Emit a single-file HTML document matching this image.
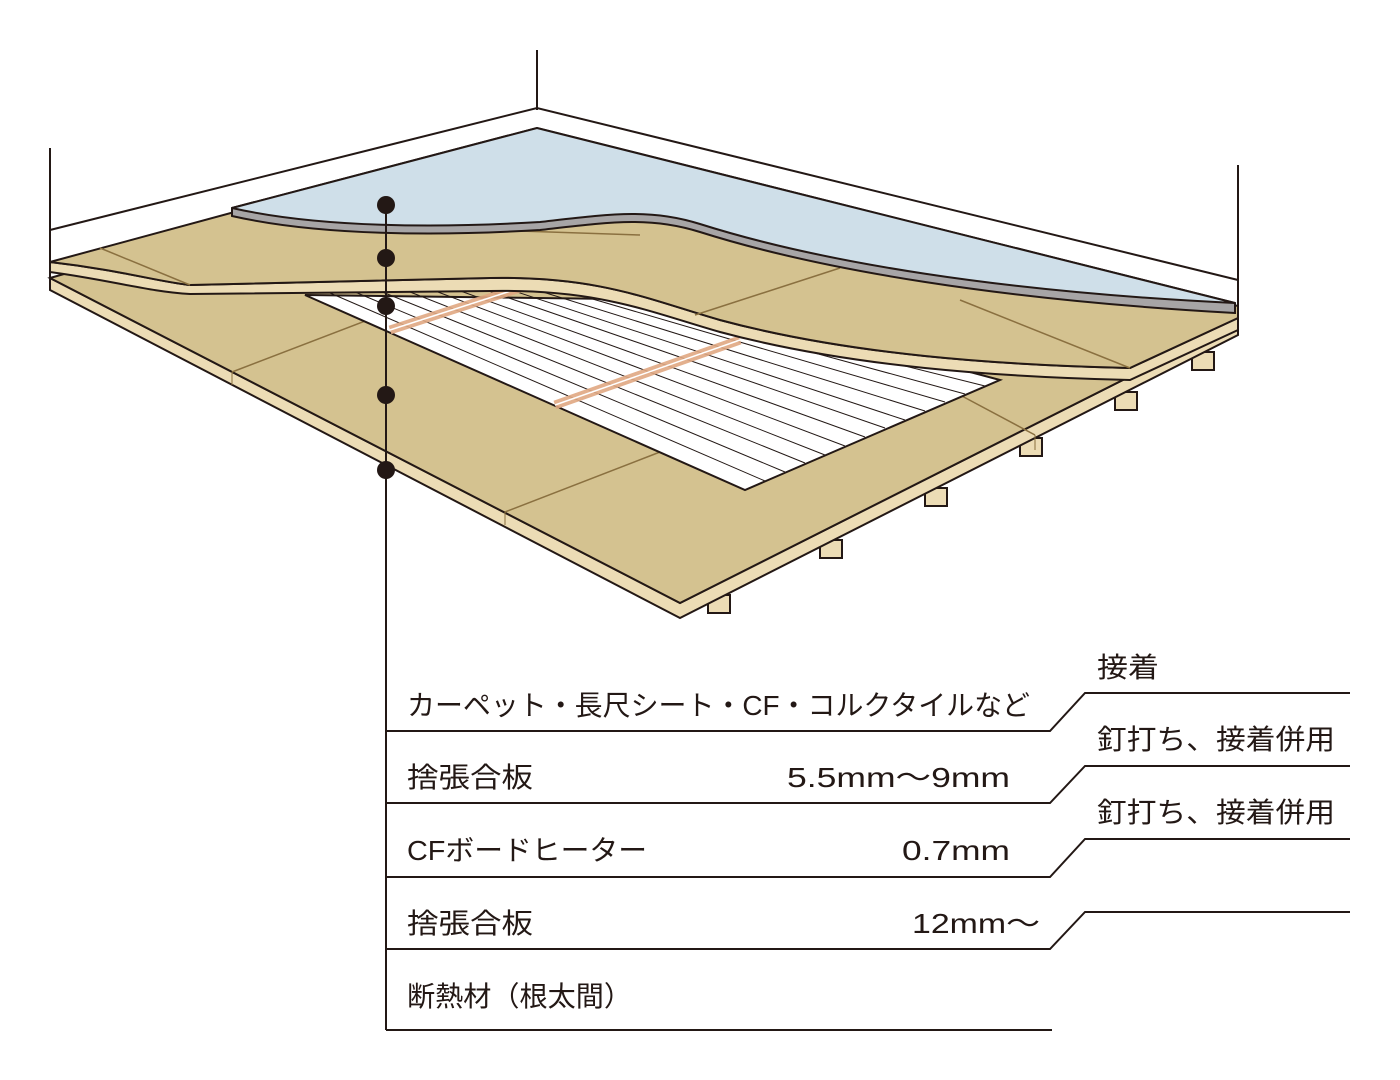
<!DOCTYPE html>
<html><head><meta charset="utf-8"><style>
html,body{margin:0;padding:0;background:#fff;}
svg{display:block}
text{font-family:"Liberation Sans","Noto Sans CJK JP",sans-serif;fill:#231815;font-size:28px}
</style></head><body>
<svg width="1400" height="1080" viewBox="0 0 1400 1080" xmlns="http://www.w3.org/2000/svg">
<g stroke="#231815" stroke-width="2" fill="none">
<line x1="50" y1="148" x2="50" y2="280"/>
<line x1="537" y1="50" x2="537" y2="110"/>
<line x1="1238" y1="165" x2="1238" y2="330"/>
<polyline points="50,230 537,108 1238,280"/>
</g>
<g fill="#ecdcb5" stroke="#231815" stroke-width="2">
<rect x="708" y="595" width="22" height="18"/>
<rect x="820" y="540" width="22" height="18"/>
<rect x="925" y="488" width="22" height="18"/>
<rect x="1020" y="438" width="22" height="18"/>
<rect x="1115" y="392" width="22" height="18"/>
<rect x="1192" y="352" width="22" height="18"/>
</g>
<polygon points="50,278 680,603 1238,322 1238,335 680,618 50,290" fill="#ecdcb5" stroke="#231815" stroke-width="2"/>
<polygon points="50,278 537,140 1238,316 1238,322 680,603" fill="#d4c290" stroke="#231815" stroke-width="2"/>
<g stroke="#8a7040" stroke-width="1.5">
<line x1="232" y1="372" x2="420" y2="300"/>
<line x1="505" y1="512" x2="660" y2="452"/>
<line x1="960" y1="395" x2="1035" y2="435"/>
</g>
<line x1="232" y1="372" x2="232" y2="385" stroke="#8a7040"/>
<line x1="505" y1="512" x2="505" y2="525" stroke="#8a7040"/>
<line x1="1035" y1="435" x2="1035" y2="450" stroke="#8a7040"/>
<polygon points="305,295 745,490 1000,380 700,300" fill="#fff" stroke="#231815" stroke-width="2"/>
<g stroke="#231815" stroke-width="1">
<line x1="330" y1="293" x2="765" y2="481"/>
<line x1="355" y1="292" x2="785" y2="472"/>
<line x1="380" y1="291" x2="805" y2="463"/>
<line x1="405" y1="290" x2="825" y2="455"/>
<line x1="430" y1="289" x2="845" y2="446"/>
<line x1="455" y1="289" x2="865" y2="437"/>
<line x1="480" y1="288" x2="885" y2="428"/>
<line x1="505" y1="288" x2="905" y2="420"/>
<line x1="530" y1="288" x2="925" y2="411"/>
<line x1="555" y1="288" x2="945" y2="402"/>
<line x1="580" y1="289" x2="965" y2="394"/>
<line x1="605" y1="291" x2="985" y2="386"/>
</g>
<g stroke="#e0a882" stroke-width="9" opacity="0.9">
<line x1="390" y1="330" x2="520" y2="288"/>
<line x1="555" y1="405" x2="740" y2="340"/>
</g>
<g stroke="#fff" stroke-width="1.5">
<line x1="390" y1="330" x2="520" y2="288"/>
<line x1="555" y1="405" x2="740" y2="340"/>
</g>
<path d="M50,262 C120,270 160,282 190,285 L490,278 C600,276 650,300 720,320 C850,355 1000,365 1130,368 L1238,318 L1238,330 L1130,380 C1000,377 850,367 720,332 C650,312 600,289 490,291 L190,294 C150,292 110,280 50,272 Z" fill="#ecdcb5" stroke="#231815" stroke-width="2"/>
<path d="M50,262 L537,130 L1238,306 L1238,318 L1130,368 C1000,365 850,355 720,320 C650,300 600,276 490,278 L190,285 C160,282 120,270 50,262 Z" fill="#d4c290" stroke="#231815" stroke-width="2"/>
<g stroke="#8a7040" stroke-width="1.5">
<line x1="100" y1="248" x2="190" y2="285"/>
<line x1="430" y1="228" x2="640" y2="235"/>
<line x1="695" y1="315" x2="840" y2="268"/>
<line x1="960" y1="300" x2="1130" y2="368"/>
</g>
<path d="M232,208 L537,128 L1235,303 L1235,313 C1000,300 820,270 700,232 C650,216 610,222 540,230 C440,236 320,236 232,216 Z" fill="#a7a5a6" stroke="#231815" stroke-width="2"/>
<path d="M232,208 L537,128 L1235,303 C1000,292 820,262 700,224 C650,208 610,214 540,222 C440,228 320,228 232,208 Z" fill="#cfdfe9" stroke="#231815" stroke-width="2"/>
<line x1="386" y1="205" x2="386" y2="1030" stroke="#231815" stroke-width="2"/>
<g fill="#231815">
<circle cx="386" cy="205" r="9"/><circle cx="386" cy="258" r="9"/><circle cx="386" cy="306" r="9"/><circle cx="386" cy="395" r="9"/><circle cx="386" cy="470" r="9"/>
</g>
<g stroke="#231815" stroke-width="2" fill="none">
<polyline points="386,731 1050,731 1085,693 1350,693"/>
<polyline points="386,803 1050,803 1085,766 1350,766"/>
<polyline points="386,877 1050,877 1085,839 1350,839"/>
<polyline points="386,949 1050,949 1085,912 1350,912"/>
<line x1="386" y1="1030" x2="1052" y2="1030"/>
</g>
<text x="407" y="715" textLength="623" lengthAdjust="spacingAndGlyphs">カーペット・長尺シート・CF・コルクタイルなど</text>
<text x="407" y="787" textLength="126" lengthAdjust="spacingAndGlyphs">捨張合板</text>
<text x="787" y="787" textLength="223" lengthAdjust="spacingAndGlyphs" font-size="30">5.5mm〜9mm</text>
<text x="407" y="860" textLength="240" lengthAdjust="spacingAndGlyphs">CFボードヒーター</text>
<text x="902" y="860" textLength="108" lengthAdjust="spacingAndGlyphs" font-size="30">0.7mm</text>
<text x="407" y="933" textLength="126" lengthAdjust="spacingAndGlyphs">捨張合板</text>
<text x="912" y="933" textLength="128" lengthAdjust="spacingAndGlyphs" font-size="30">12mm〜</text>
<text x="407" y="1006" textLength="225" lengthAdjust="spacingAndGlyphs">断熱材（根太間）</text>
<text x="1097" y="677" textLength="62" lengthAdjust="spacingAndGlyphs">接着</text>
<text x="1097" y="749" textLength="238" lengthAdjust="spacingAndGlyphs">釘打ち、接着併用</text>
<text x="1097" y="822" textLength="238" lengthAdjust="spacingAndGlyphs">釘打ち、接着併用</text>
</svg>
</body></html>
